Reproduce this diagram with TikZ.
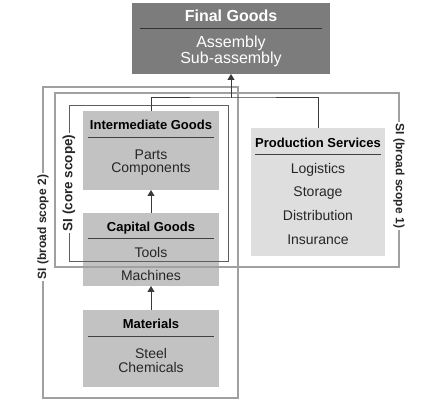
\documentclass[tikz,border=0pt]{standalone}
\usepackage{fontspec}
\setmainfont{Liberation Sans}
\usetikzlibrary{arrows.meta}
\definecolor{finalfill}{HTML}{7C7C7C}
\definecolor{goodsfill}{HTML}{C2C2C2}
\definecolor{servfill}{HTML}{DEDEDE}
\definecolor{conn}{HTML}{3A3A3A}
\definecolor{broad}{HTML}{A0A0A0}
\definecolor{core}{HTML}{5E5E5E}
\begin{document}
\begin{tikzpicture}[x=1pt,y=-1pt,
  boxstyle/.style={draw=none, inner sep=0pt, outer sep=0pt},
  titletext/.style={font=\fontsize{13}{15}\selectfont\bfseries, anchor=base, inner sep=0pt},
  bodytext/.style={font=\fontsize{14}{16}\selectfont, anchor=base, inner sep=0pt, text=black!85},
  finaltitle/.style={font=\fontsize{16}{18}\selectfont\bfseries, anchor=base, inner sep=0pt, text=white},
  finalbody/.style={font=\fontsize{16}{18}\selectfont, anchor=base, inner sep=0pt, text=white},
  sepline/.style={draw=black!75, line width=0.9pt},
  connline/.style={draw=conn, line width=1pt},
  arrowline/.style={draw=conn, line width=1pt, -{Triangle[width=7pt,length=6pt]}},
  broadframe/.style={draw=broad, line width=1.3pt},
  coreframe/.style={draw=core, line width=0.9pt},
  scopelabel/.style={font=\fontsize{12}{14}\selectfont\bfseries, fill=white, inner sep=2pt, text=black!85}
]
\useasboundingbox (0,0) rectangle (447,411);
\fill[white] (0,0) rectangle (447,411);

% boxes
\node[boxstyle, fill=finalfill, minimum width=198pt, minimum height=71pt] (final) at (231,38.5) {};
\node[boxstyle, fill=goodsfill, minimum width=136pt, minimum height=79pt] (inter) at (151,150.5) {};
\node[boxstyle, fill=goodsfill, minimum width=136pt, minimum height=73pt] (cap) at (151,249.5) {};
\node[boxstyle, fill=goodsfill, minimum width=136pt, minimum height=77pt] (mat) at (151,348.5) {};
\node[boxstyle, fill=servfill, minimum width=134pt, minimum height=128pt] (prod) at (318,192) {};

% separators
\draw[draw=black!80, line width=0.9pt] (140,28) -- (322,28);
\draw[sepline] (88,137) -- (214,137);
\draw[sepline] (88,238) -- (214,238);
\draw[sepline] (88,336) -- (214,336);
\draw[sepline] (255,154) -- (381,154);

% texts
\node[finaltitle] (ft) at (231,21.7) {Final Goods};
\node[finalbody] (fa) at (231,47.7) {Assembly};
\node[finalbody] (fs) at (231,63.7) {Sub-assembly};

\node[titletext] (it) at (151,129.7) {Intermediate Goods};
\node[bodytext] (ip) at (151,160) {Parts};
\node[bodytext] (ic) at (151,173) {Components};

\node[titletext] (ct) at (151,231.7) {Capital Goods};
\node[bodytext] (cto) at (151,258) {Tools};
\node[bodytext] (cm) at (151,281) {Machines};

\node[titletext] (mt) at (151,328.7) {Materials};
\node[bodytext] (ms) at (151,359) {Steel};
\node[bodytext] (mc) at (151,373) {Chemicals};

\node[titletext] (pt) at (318,147.7) {Production Services};
\node[bodytext] (pl) at (318,174) {Logistics};
\node[bodytext] (ps) at (318,197) {Storage};
\node[bodytext] (pd) at (318,221) {Distribution};
\node[bodytext] (pi) at (318,245) {Insurance};

% scope frames
\draw[broadframe] (43,87) rectangle (238,398);
\draw[broadframe] (55,93) rectangle (399,267);
\draw[coreframe] (69,105) rectangle (228,261);

\node[scopelabel, rotate=90] (lb2) at (43,227) {SI (broad scope 2)};
\node[scopelabel, rotate=-90] (lb1) at (399,176) {SI (broad scope 1)};
\node[scopelabel, rotate=90, font=\fontsize{13.5}{15}\selectfont\bfseries] (lc) at (69,183) {SI (core scope)};

% connectors
\coordinate (bus) at (231,98);
\draw[connline] (inter.north) |- (bus) -| (prod.north);
\draw[arrowline] (bus) -- (final.south);
\draw[arrowline] (cap.north) -- (inter.south);
\draw[arrowline] (mat.north) -- (cap.south);
\end{tikzpicture}
\end{document}
